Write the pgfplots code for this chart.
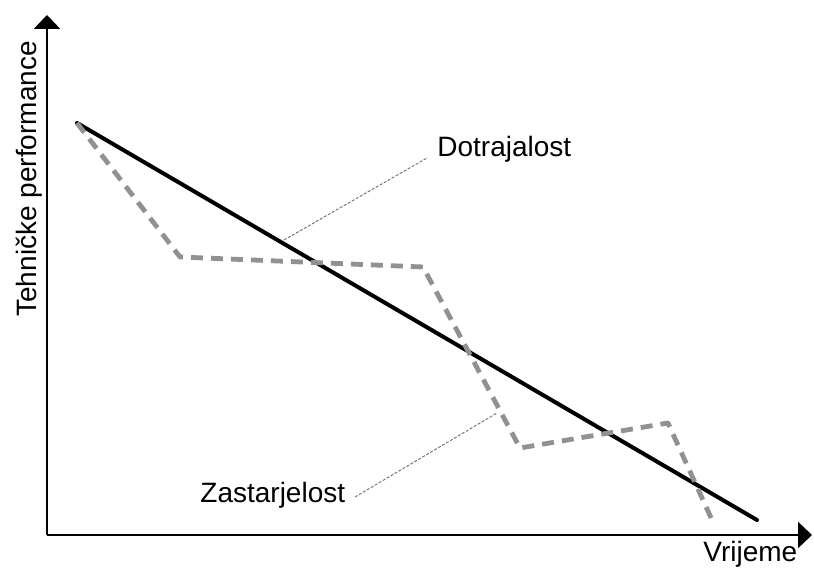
\documentclass[border=0pt]{standalone}
\usepackage{pgfplots}
\pgfplotsset{compat=1.18}
\usepackage{fontspec}
\setmainfont{Liberation Sans}
\usetikzlibrary{arrows.meta}
\definecolor{dashgray}{RGB}{145,145,145}
\definecolor{leadgray}{RGB}{120,120,120}
\begin{document}
\begin{tikzpicture}
\begin{axis}[
  scale only axis,
  width=382.5pt, height=260pt,
  xmin=47, xmax=812, ymin=37, ymax=557,
  axis lines=left,
  axis line style={line width=1.4pt, -{Triangle[length=7pt,width=13pt]}},
  xtick=\empty, ytick=\empty,
  clip=false,
]
% bounding box of the whole image (pixel units)
\path (axis cs:0,0) rectangle (axis cs:814,572);
% technical performance trend (solid)
\addplot[black, line width=2pt, line cap=round] coordinates {(77,449) (757,52)};
% dashed actual performance
\addplot[dashgray, line width=2.4pt, dash pattern=on 6pt off 4pt, line join=round] coordinates {
  (77,449) (180,315) (423,305) (520,124) (668,149) (712,52)};
% leader lines
\addplot[leadgray, line width=0.5pt, dash pattern=on 1.5pt off 0.8pt] coordinates {(284,332) (427,414)};
\addplot[leadgray, line width=0.5pt, dash pattern=on 1.5pt off 0.8pt] coordinates {(355,75) (497,159)};
\node[anchor=base west, font=\fontsize{14}{16}\selectfont, inner sep=0pt] at (axis cs:437,415) {Dotrajalost};
\node[anchor=base west, font=\fontsize{14}{16}\selectfont, inner sep=0pt] at (axis cs:200,69) {Zastarjelost};
\node[anchor=base west, font=\fontsize{14}{16}\selectfont, inner sep=0pt] at (axis cs:703,10) {Vrijeme};
\node[anchor=base, rotate=90, font=\fontsize{14}{16}\selectfont, inner sep=0pt] at (axis cs:37,393) {Tehničke performance};
\end{axis}
\end{tikzpicture}
\end{document}
